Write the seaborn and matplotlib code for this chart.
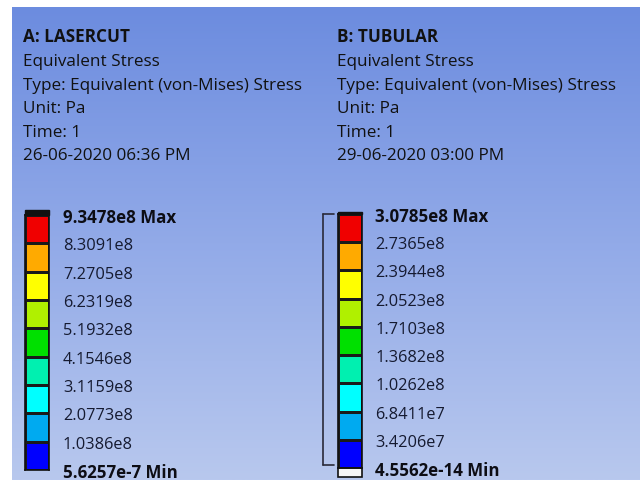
import numpy as np
import matplotlib
matplotlib.use("Agg")
import matplotlib.pyplot as plt
from matplotlib.colors import ListedColormap, BoundaryNorm, LinearSegmentedColormap
from matplotlib.patches import Rectangle
from matplotlib.lines import Line2D
import seaborn as sns

sns.set_style("white")
plt.rcParams['font.family'] = ['Open Sans', 'DejaVu Sans']

# ---- data ----
header_a = ["A: LASERCUT", "Equivalent Stress", "Type: Equivalent (von-Mises) Stress",
            "Unit: Pa", "Time: 1", "26-06-2020 06:36 PM"]
header_b = ["B: TUBULAR", "Equivalent Stress", "Type: Equivalent (von-Mises) Stress",
            "Unit: Pa", "Time: 1", "29-06-2020 03:00 PM"]
levels_a = [9.3478e8, 8.3091e8, 7.2705e8, 6.2319e8, 5.1932e8, 4.1546e8,
            3.1159e8, 2.0773e8, 1.0386e8, 5.6257e-7]
labels_a = ["9.3478e8 Max", "8.3091e8", "7.2705e8", "6.2319e8", "5.1932e8", "4.1546e8",
            "3.1159e8", "2.0773e8", "1.0386e8", "5.6257e-7 Min"]
levels_b = [3.0785e8, 2.7365e8, 2.3944e8, 2.0523e8, 1.7103e8, 1.3682e8,
            1.0262e8, 6.8411e7, 3.4206e7, 4.5562e-14]
labels_b = ["3.0785e8 Max", "2.7365e8", "2.3944e8", "2.0523e8", "1.7103e8", "1.3682e8",
            "1.0262e8", "6.8411e7", "3.4206e7", "4.5562e-14 Min"]
band_colors = ["#0000ff", "#00aaf0", "#00ffff", "#00f0b0", "#00e000",
               "#b0f000", "#ffff00", "#ffaa00", "#f00000"]  # low -> high

W, H = 640, 481
fig = plt.figure(figsize=(W / 100, H / 100), dpi=100)


def fr(x0, y0, x1, y1):
    return [x0 / W, 1 - y1 / H, (x1 - x0) / W, (y1 - y0) / H]


# background gradient
bg = fig.add_axes(fr(12, 8, W, H))
grad = np.linspace(0, 1, 256).reshape(-1, 1)
bg_cmap = LinearSegmentedColormap.from_list("bg", [(108/255, 140/255, 223/255),
                                                   (146/255, 170/255, 232/255),
                                                   (184/255, 200/255, 238/255)])
bg.imshow(grad, aspect="auto", cmap=bg_cmap, extent=[0, 1, 0, 1], origin="upper")
bg.set_axis_off()

# header text
baselines = [42, 66, 90, 113, 137, 160]
for x, lines in [(23, header_a), (337, header_b)]:
    for i, (t, yb) in enumerate(zip(lines, baselines)):
        fig.text(x / W, 1 - yb / H, t, fontsize=12.3, va="baseline", ha="left",
                 color="#111111", fontweight="bold" if i == 0 else "normal")


def legend_bar(rect, levels, labels, pad_pt):
    ax = fig.add_axes(rect)
    lv = np.array(levels)
    mids = (lv[:-1] + lv[1:]) / 2
    bounds = lv[::-1]
    norm = BoundaryNorm(bounds, len(band_colors))
    sns.heatmap(mids.reshape(-1, 1), ax=ax, cmap=ListedColormap(band_colors), norm=norm,
                cbar=False, linewidths=0.9, linecolor="#1a1a1a",
                xticklabels=False, yticklabels=False)
    for s in ax.spines.values():
        s.set_visible(True)
        s.set_color("#111111")
        s.set_linewidth(1.2)
    ax.set_yticks(np.arange(len(labels)))
    ax.set_yticklabels(labels)
    ax.yaxis.tick_right()
    ax.tick_params(axis="y", length=0, pad=pad_pt, labelsize=11.8, labelcolor="#151a30")
    for lab in (ax.get_yticklabels()[0], ax.get_yticklabels()[-1]):
        lab.set_fontweight("bold")
        lab.set_fontsize(12.2)
        lab.set_color("#0d0d14")
    return ax


ax_a = legend_bar(fr(25, 216, 49, 471), levels_a, labels_a, 10)
ax_a.add_patch(Rectangle((0, -0.16), 1, 0.16, facecolor="#111111", edgecolor="#111111",
                         lw=1, clip_on=False))

ax_b = legend_bar(fr(338, 215, 362, 469), levels_b, labels_b, 9.4)
ax_b.add_patch(Rectangle((0, -0.07), 1, 0.07, facecolor="#111111", edgecolor="#111111",
                         lw=1, clip_on=False))
ax_b.add_patch(Rectangle((0, 9.0), 1, 0.33, facecolor="#f6f6f6", edgecolor="#111111",
                         lw=1.2, clip_on=False))

# bracket left of bar B
bx0, bx1, by0, by1 = 323 / W, 334 / W, 1 - 215 / H, 1 - 466 / H
for xs, ys in [([bx0, bx0], [by0, by1]), ([bx0, bx1], [by0, by0]), ([bx0, bx1], [by1, by1])]:
    fig.add_artist(Line2D(xs, ys, color="#2a2a3a", lw=1.2))

fig.savefig("out.png", dpi=100)
